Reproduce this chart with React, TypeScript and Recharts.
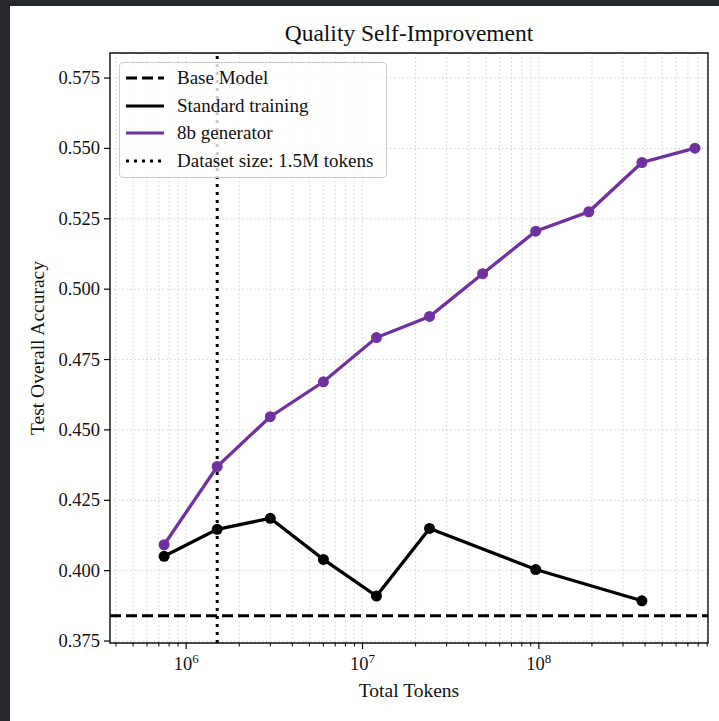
import React from 'react'
import {
  LineChart,
  Line,
  XAxis,
  YAxis,
  CartesianGrid,
  ReferenceLine,
  ReferenceArea,
} from 'recharts'

const FONT = '"Liberation Serif", "DejaVu Serif", serif'
const PURPLE = '#7030a0'

// total tokens seen for each run
const genTokens = [7.5e5, 1.5e6, 3e6, 6e6, 1.2e7, 2.4e7, 4.8e7, 9.6e7, 1.92e8, 3.84e8, 7.68e8]
const genAcc = [0.4092, 0.437, 0.4547, 0.4671, 0.4828, 0.4903, 0.5055, 0.5206, 0.5275, 0.545, 0.5501]

const stdTokens = [7.5e5, 1.5e6, 3e6, 6e6, 1.2e7, 2.4e7, 9.6e7, 3.84e8]
const stdAcc = [0.4051, 0.4147, 0.4186, 0.404, 0.391, 0.415, 0.4004, 0.3893]

const baseModelAcc = 0.384
const datasetSize = 1.5e6

const yTicks = [0.375, 0.4, 0.425, 0.45, 0.475, 0.5, 0.525, 0.55, 0.575]
const majorX = [1e6, 1e7, 1e8]
const xTicks = [
  4e5, 5e5, 6e5, 7e5, 8e5, 9e5,
  1e6, 2e6, 3e6, 4e6, 5e6, 6e6, 7e6, 8e6, 9e6,
  1e7, 2e7, 3e7, 4e7, 5e7, 6e7, 7e7, 8e7, 9e7,
  1e8, 2e8, 3e8, 4e8, 5e8, 6e8, 7e8, 8e8, 9e8,
]
const xDomain = [3.7e5, 9.1e8]
const yDomain = [0.3743, 0.5839]

const genData = genTokens.map((t, i) => ({ t, acc: genAcc[i] }))
const stdData = stdTokens.map((t, i) => ({ t, acc: stdAcc[i] }))

const legendItems = [
  { label: 'Base Model', color: '#000', dash: '11 5' },
  { label: 'Standard training', color: '#000', dash: undefined },
  { label: '8b generator', color: PURPLE, dash: undefined },
  { label: 'Dataset size: 1.5M tokens', color: '#000', dash: '3 5' },
]

const XTick = ({ x, y, payload }: any) => {
  const v = payload.value
  const major = majorX.includes(v)
  if (!major) {
    return <line x1={x} x2={x} y1={y} y2={y + 3.5} stroke="#000" strokeWidth={1} />
  }
  const exp = Math.round(Math.log10(v))
  return (
    <g>
      <line x1={x} x2={x} y1={y} y2={y + 6} stroke="#000" strokeWidth={1.2} />
      <text x={x} y={y + 27} textAnchor="middle" fontFamily={FONT} fontSize={18.5} fill="#111">
        10
        <tspan dy={-7} fontSize={13}>{exp}</tspan>
      </text>
    </g>
  )
}

const YTick = ({ x, y, payload }: any) => (
  <g>
    <line x1={x - 6} x2={x} y1={y} y2={y} stroke="#000" strokeWidth={1.2} />
    <text x={x - 10} y={y + 6} textAnchor="end" fontFamily={FONT} fontSize={18.5} fill="#111">
      {payload.value.toFixed(3)}
    </text>
  </g>
)

export default function App() {
  return (
    <div style={{ position: 'absolute', left: 0, top: 0, width: 719, height: 721, background: '#27282c' }}>
      <div style={{ position: 'absolute', left: 10, top: 6, width: 709, height: 715, background: '#fff' }} />
      <div
        style={{
          position: 'absolute',
          left: 110,
          width: 598,
          top: 18,
          textAlign: 'center',
          fontFamily: FONT,
          fontSize: 23.5,
          color: '#111',
          lineHeight: '30px',
        }}
      >
        Quality Self-Improvement
      </div>
      <div style={{ position: 'absolute', left: 0, top: 0 }}>
        <LineChart width={719} height={721} margin={{ top: 53, right: 11, bottom: 0, left: 0 }}>
          <CartesianGrid stroke="#d2d2d2" strokeDasharray="1.5 2.5" strokeWidth={1} />
          <XAxis
            dataKey="t"
            type="number"
            scale="log"
            domain={xDomain}
            ticks={xTicks}
            interval={0}
            allowDataOverflow
            height={78}
            tickSize={0}
            tickMargin={0}
            tickLine={false}
            axisLine={false}
            tick={<XTick />}
            label={{
              value: 'Total Tokens',
              position: 'insideBottom',
              offset: 24,
              style: { fontFamily: FONT, fontSize: 19.5, fill: '#111' },
            }}
          />
          <YAxis
            type="number"
            domain={yDomain}
            ticks={yTicks}
            interval={0}
            allowDataOverflow
            width={110}
            tickSize={0}
            tickMargin={0}
            tickLine={false}
            axisLine={false}
            tick={<YTick />}
            label={{
              value: 'Test Overall Accuracy',
              angle: -90,
              position: 'insideLeft',
              offset: 37,
              style: { textAnchor: 'middle', fontFamily: FONT, fontSize: 19.5, fill: '#111' },
            }}
          />
          <ReferenceLine y={baseModelAcc} stroke="#000" strokeWidth={3} strokeDasharray="11 5" />
          <ReferenceLine x={datasetSize} stroke="#000" strokeWidth={3} strokeDasharray="3 5" />
          <Line
            data={stdData}
            dataKey="acc"
            stroke="#000"
            strokeWidth={3.3}
            dot={{ r: 5.5, fill: '#000', stroke: 'none' }}
            isAnimationActive={false}
          />
          <Line
            data={genData}
            dataKey="acc"
            stroke={PURPLE}
            strokeWidth={3.3}
            dot={{ r: 5.5, fill: PURPLE, stroke: 'none' }}
            isAnimationActive={false}
          />
          <ReferenceArea
            x1={xDomain[0]}
            x2={xDomain[1]}
            y1={yDomain[0]}
            y2={yDomain[1]}
            fill="none"
            stroke="#111"
            strokeWidth={1.4}
          />
        </LineChart>
      </div>
      <div
        style={{
          position: 'absolute',
          left: 119,
          top: 62,
          width: 266,
          height: 114,
          background: 'rgba(255,255,255,0.8)',
          border: '1px solid #cccccc',
          borderRadius: 4,
          fontFamily: FONT,
          fontSize: 19,
          color: '#111',
        }}
      >
        {legendItems.map((it, i) => (
          <div
            key={it.label}
            style={{ position: 'absolute', left: 5, top: 2 + i * 27.7, height: 26, display: 'flex', alignItems: 'center' }}
          >
            <svg width={40} height={10} style={{ marginRight: 12 }}>
              <line x1={1} x2={39} y1={5} y2={5} stroke={it.color} strokeWidth={3} strokeDasharray={it.dash} />
            </svg>
            <span style={{ whiteSpace: 'nowrap' }}>{it.label}</span>
          </div>
        ))}
      </div>
    </div>
  )
}
